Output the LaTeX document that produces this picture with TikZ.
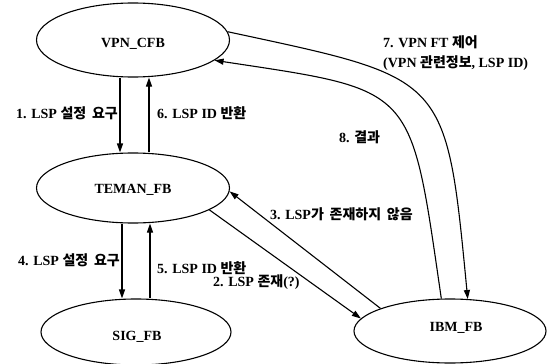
\documentclass[tikz,border=0pt]{standalone}
\usepackage{fontspec}
\setmainfont{Liberation Serif}
\newfontfamily\kr[WordSpace=1.8]{Noto Sans CJK KR}
\usetikzlibrary{shapes.geometric,arrows.meta,calc}
\newcommand{\K}[1]{{\kr #1}}
\begin{document}
\begin{tikzpicture}[x=1pt,y=-1pt,
  fb/.style={draw, ellipse, line width=1.1pt, inner sep=0pt},
  fbtext/.style={font=\fontsize{14}{16}\selectfont\bfseries, inner sep=0pt},
  lbl/.style={font=\fontsize{14}{20}\selectfont\bfseries, inner sep=0pt},
  conn/.style={line width=1.1pt, -{Triangle[length=9pt,width=6pt]}}]
\useasboundingbox[fill=white] (0,0) rectangle (552,364);
% function blocks
\node[fb, minimum width=193pt, minimum height=74pt,
  label={[fbtext, yshift=-4pt]center:VPN\_CFB}] (vpn) at (133,40) {};
\node[fb, minimum width=193pt, minimum height=70pt,
  label={[fbtext, yshift=-2pt]center:TEMAN\_FB}] (teman) at (133,188) {};
\node[fb, minimum width=190pt, minimum height=66pt,
  label={[fbtext, yshift=-5pt, xshift=1pt]center:SIG\_FB}] (sig) at (136,332) {};
\node[fb, minimum width=192pt, minimum height=64pt,
  label={[fbtext, yshift=3pt, xshift=6pt]center:IBM\_FB}] (ibm) at (450,331) {};
% vertical connectors
\draw[conn] ([xshift=-13pt]vpn.south) -- ([xshift=-13pt]vpn.south |- teman.north);
\draw[conn] ([xshift=16pt]teman.north) -- ([xshift=16pt]teman.north |- vpn.south);
\draw[conn] ([xshift=-11pt]teman.south) -- ([xshift=-11pt]teman.south |- sig.north);
\draw[conn] ([xshift=14pt]sig.north) -- ([xshift=14pt]sig.north |- teman.south);
% diagonal connectors
\draw[conn] (teman.-16) -- (ibm.172);
\draw[conn] (ibm.162) -- (teman.-2);
% curved connectors
\draw[conn] (vpn.5) .. controls (447,79) and (446,73) .. (ibm.61);
\draw[conn] (ibm.105) .. controls (410,84) and (417,91) .. (vpn.-14);
% labels
\node[lbl, anchor=east] (l1) at (118,113) {1. LSP \K{설정 요구}};
\node[lbl, anchor=west] (l6) at (157,113) {6. LSP ID \K{반환}};
\node[lbl, anchor=east] (l4) at (120,260) {4. LSP \K{설정 요구}};
\node[lbl, anchor=west] (l5) at (157,268) {5. LSP ID \K{반환}};
\node[lbl, anchor=west] (l2) at (213,282) {2. LSP \K{존재}(?)};
\node[lbl, anchor=west] (l3) at (270,214) {3. LSP\K{가 존재하지 않음}};
\node[lbl, anchor=west, align=left] (l7) at (383,53) {7. VPN FT \K{제어}\\(VPN \K{관련정보}, LSP ID)};
\node[lbl, anchor=west] (l8) at (339,137) {8. \K{결과}};
\end{tikzpicture}
\end{document}
